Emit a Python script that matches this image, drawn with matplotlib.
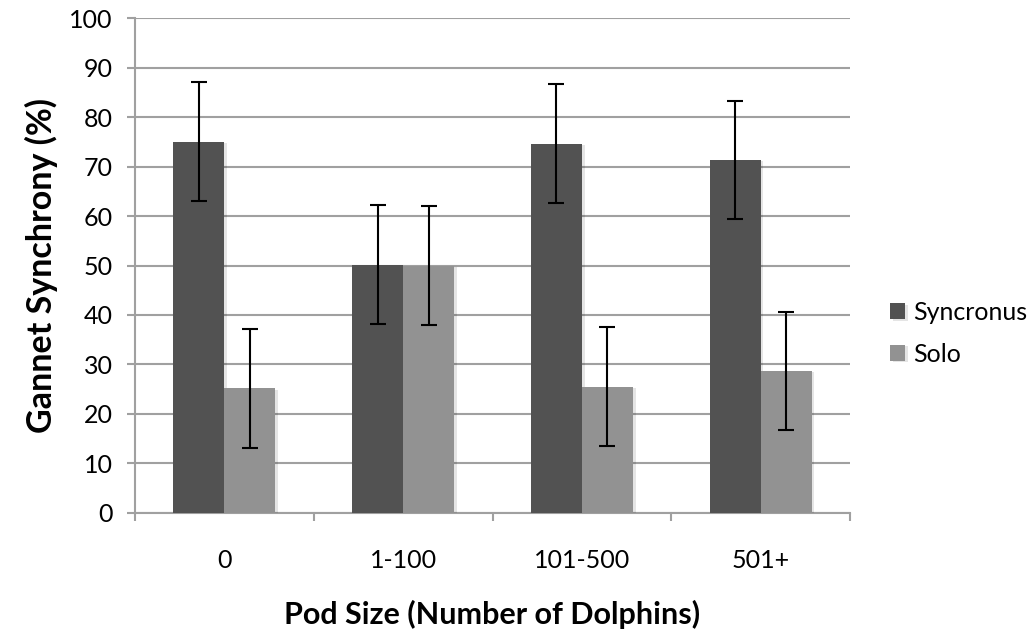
import matplotlib.pyplot as plt
import numpy as np
from matplotlib import patheffects as pe

# Gannet synchrony by dolphin pod size
categories = ["0", "1-100", "101-500", "501+"]
syncronus = [75.0, 50.2, 74.6, 71.3]
solo = [25.2, 50.0, 25.5, 28.7]
sync_err = [12, 12, 12, 12]
solo_err = [12, 12, 12, 12]

plt.rcParams['font.family'] = ['Lato', 'DejaVu Sans']

fig = plt.figure(figsize=(10.34, 6.37), dpi=100)
ax = fig.add_axes([0.1306, 0.1947, 0.6915, 0.777])

x = np.arange(len(categories))
w = 0.285
shadow = [pe.SimplePatchShadow(offset=(2, -1), shadow_rgbFace='#000000', alpha=0.10), pe.Normal()]
b1 = ax.bar(x - w/2, syncronus, w, color='#525252', label='Syncronus', zorder=3)
b2 = ax.bar(x + w/2, solo, w, color='#929292', label='Solo', zorder=3)
for b in list(b1) + list(b2):
    b.set_path_effects(shadow)
ax.errorbar(x - w/2, syncronus, yerr=sync_err, fmt='none', ecolor='black',
            elinewidth=1.5, capsize=6, capthick=1.5, zorder=4)
ax.errorbar(x + w/2, solo, yerr=solo_err, fmt='none', ecolor='black',
            elinewidth=1.5, capsize=6, capthick=1.5, zorder=4)

ax.set_xlim(-0.5, len(categories) - 0.5)
ax.set_ylim(0, 100)
ax.set_yticks(np.arange(0, 101, 10))
ax.set_xticks(x)
ax.set_xticklabels(categories)
ax.set_xticks(np.arange(-0.5, len(categories), 1), minor=True)
ax.tick_params(axis='x', which='major', length=0, pad=26, labelsize=18)
ax.tick_params(axis='x', which='minor', length=6, width=1.5, color='#a0a0a0')
ax.tick_params(axis='y', length=6, width=1.5, color='#a0a0a0', labelsize=18, pad=10)

ax.yaxis.grid(True, color='#a0a0a0', linewidth=1.5, zorder=0)
ax.set_axisbelow(True)
for s in ['top', 'right']:
    ax.spines[s].set_visible(False)
ax.spines['left'].set_color('#a0a0a0')
ax.spines['left'].set_linewidth(1.5)
ax.spines['bottom'].set_color('#a0a0a0')
ax.spines['bottom'].set_linewidth(1.5)

ax.set_ylabel('Gannet Synchrony (%)', fontsize=24.5, fontweight='bold', labelpad=8)
ax.set_xlabel('Pod Size (Number of Dolphins)', fontsize=22, fontweight='bold', labelpad=20)

fig.legend(handles=[b1, b2], loc='center left', bbox_to_anchor=(0.861, 0.4765),
           frameon=False, fontsize=18, borderpad=0, borderaxespad=0,
           handlelength=0.6, handleheight=0.6, handletextpad=0.3, labelspacing=0.75)

fig.savefig('out.png', dpi=100)
